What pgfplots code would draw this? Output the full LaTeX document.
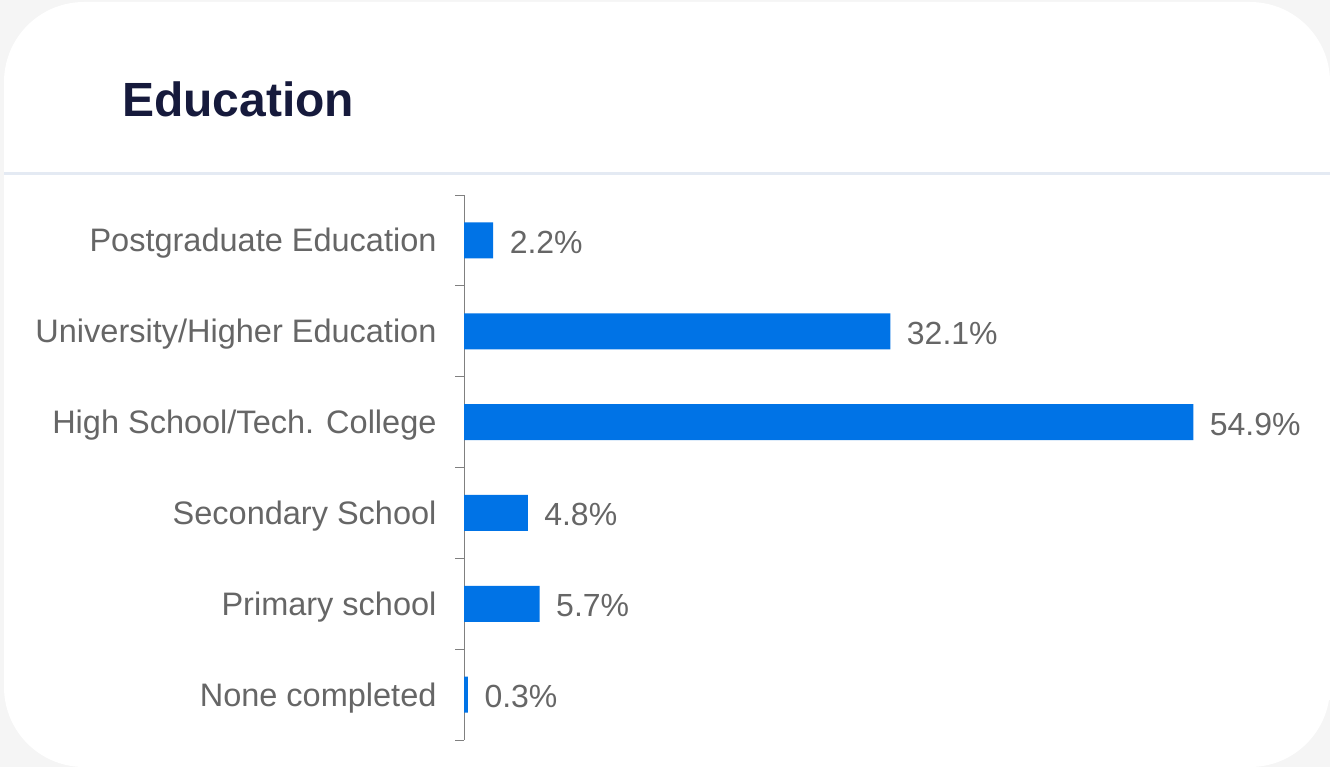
\documentclass[border=0pt]{standalone}
\usepackage{pgfplots}
\pgfplotsset{compat=1.18}
\usepackage{fontspec}
\setmainfont{Liberation Sans}
\definecolor{bg}{HTML}{F5F5F5}
\definecolor{barblue}{HTML}{0073E6}
\definecolor{labgray}{HTML}{666666}
\definecolor{titlenavy}{HTML}{161A3C}
\definecolor{sep}{HTML}{E4EAF3}
\definecolor{axgray}{HTML}{808080}
\begin{document}
\begin{tikzpicture}[x=1bp,y=1bp]
\fill[bg] (0,0) rectangle (1330,-767);
\fill[white, rounded corners=80bp] (4,-2) rectangle (1330,-767);
\fill[white] (1250,-300) rectangle (1330,-700);
\fill[sep] (4,-172) rectangle (1330,-175);
\node[anchor=base west, inner sep=0pt, text=titlenavy, font=\fontsize{48bp}{56bp}\selectfont\bfseries] at (122,-116) {Education};
\begin{axis}[
  at={(464bp,-195bp)}, anchor=north west,
  scale only axis, width=797bp, height=545bp,
  xmin=0, xmax=60, ymin=-0.5, ymax=5.5,
  y dir=reverse,
  xbar, bar width=36bp,
  axis x line=none,
  axis y line*=left,
  y axis line style={axgray, line width=1pt},
  ytick={0,1,2,3,4,5},
  yticklabels={Postgraduate Education, University/Higher Education, High School/Tech. College, Secondary School, Primary school, None completed},
  major tick length=0pt,
  minor ytick={-0.5,0.5,1.5,2.5,3.5,4.5,5.5},
  minor tick length=9bp,
  tick align=outside,
  minor tick style={axgray, line width=1pt},
  /pgf/number format/assume math mode=true,
  yticklabel style={text=labgray, font=\fontsize{32.5bp}{38bp}\selectfont, xshift=-24bp, yshift=-3bp},
  nodes near coords={\pgfmathprintnumber[fixed,precision=1,fixed zerofill]{\pgfplotspointmeta}\%},
  nodes near coords style={text=labgray, font=\fontsize{32bp}{38bp}\selectfont, anchor=west, xshift=13bp, yshift=-2bp},
  clip=false,
]
\addplot[fill=barblue, draw=none] coordinates {(2.2,0) (32.1,1) (54.9,2) (4.8,3) (5.7,4) (0.3,5)};
\end{axis}
\end{tikzpicture}
\end{document}
